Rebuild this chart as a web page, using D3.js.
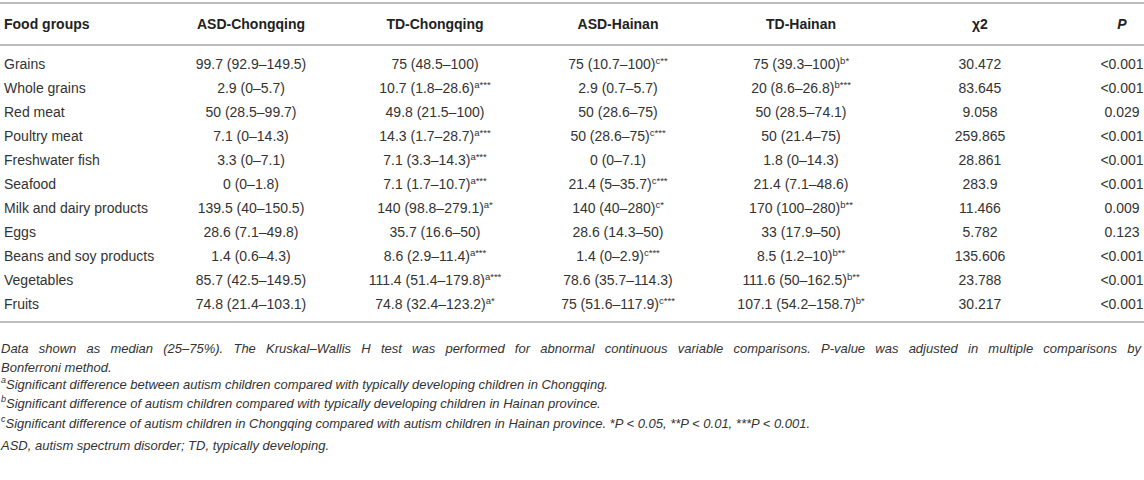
<!DOCTYPE html>
<html>
<head>
<meta charset="utf-8">
<script src="https://cdn.jsdelivr.net/npm/d3@7"></script>
<style>
  body { margin: 0; background: #fff; }
  svg text { font-family: "Liberation Sans", Arial, sans-serif; fill: #333; }
</style>
</head>
<body>
<svg width="1144" height="480"></svg>
<script>
// table content
var headers = ["Food groups", "ASD-Chongqing", "TD-Chongqing", "ASD-Hainan", "TD-Hainan", "\u03c72", "P"];
var foods = ["Grains", "Whole grains", "Red meat", "Poultry meat", "Freshwater fish", "Seafood",
  "Milk and dairy products", "Eggs", "Beans and soy products", "Vegetables", "Fruits"];
// "^" marks the start of a superscript
var asdChongqing = ["99.7 (92.9–149.5)", "2.9 (0–5.7)", "50 (28.5–99.7)", "7.1 (0–14.3)", "3.3 (0–7.1)",
  "0 (0–1.8)", "139.5 (40–150.5)", "28.6 (7.1–49.8)", "1.4 (0.6–4.3)", "85.7 (42.5–149.5)", "74.8 (21.4–103.1)"];
var tdChongqing = ["75 (48.5–100)", "10.7 (1.8–28.6)^a***", "49.8 (21.5–100)", "14.3 (1.7–28.7)^a***",
  "7.1 (3.3–14.3)^a***", "7.1 (1.7–10.7)^a***", "140 (98.8–279.1)^a*", "35.7 (16.6–50)",
  "8.6 (2.9–11.4)^a***", "111.4 (51.4–179.8)^a***", "74.8 (32.4–123.2)^a*"];
var asdHainan = ["75 (10.7–100)^c**", "2.9 (0.7–5.7)", "50 (28.6–75)", "50 (28.6–75)^c***", "0 (0–7.1)",
  "21.4 (5–35.7)^c***", "140 (40–280)^c*", "28.6 (14.3–50)", "1.4 (0–2.9)^c***", "78.6 (35.7–114.3)",
  "75 (51.6–117.9)^c***"];
var tdHainan = ["75 (39.3–100)^b*", "20 (8.6–26.8)^b***", "50 (28.5–74.1)", "50 (21.4–75)", "1.8 (0–14.3)",
  "21.4 (7.1–48.6)", "170 (100–280)^b**", "33 (17.9–50)", "8.5 (1.2–10)^b**", "111.6 (50–162.5)^b**",
  "107.1 (54.2–158.7)^b*"];
var chi2 = ["30.472", "83.645", "9.058", "259.865", "28.861", "283.9", "11.466", "5.782", "135.606", "23.788", "30.217"];
var pValues = ["<0.001", "<0.001", "0.029", "<0.001", "<0.001", "<0.001", "0.009", "0.123", "<0.001", "<0.001", "<0.001"];

var noteJustified = "Data shown as median (25–75%). The Kruskal–Wallis H test was performed for abnormal continuous variable comparisons. P-value was adjusted in multiple comparisons by";
var notes = [
  ["", "Bonferroni method."],
  ["a", "Significant difference between autism children compared with typically developing children in Chongqing."],
  ["b", "Significant difference of autism children compared with typically developing children in Hainan province."],
  ["c", "Significant difference of autism children in Chongqing compared with autism children in Hainan province. *P < 0.05, **P < 0.01, ***P < 0.001."],
  ["", "ASD, autism spectrum disorder; TD, typically developing."]
];

var svg = d3.select("svg"),
    width = +svg.attr("width");

var columns = [asdChongqing, tdChongqing, asdHainan, tdHainan, chi2, pValues];

var xCol = d3.scaleOrdinal()
    .domain(d3.range(7))
    .range([4, 251, 435, 618, 801, 980, 1122]);

var yRow = d3.scaleBand()
    .domain(foods)
    .range([52, 316]);

function rule(y) {
    svg.append("line")
        .attr("x1", 0).attr("x2", width)
        .attr("y1", y).attr("y2", y)
        .attr("stroke", "#bdbdbd")
        .attr("stroke-width", 2);
}
rule(3);
rule(45);
rule(322);

// header
svg.append("g").selectAll("text")
    .data(headers)
    .enter().append("text")
    .attr("x", function(d, i) { return xCol(i); })
    .attr("y", 24)
    .attr("dy", "0.35em")
    .attr("text-anchor", function(d, i) { return i == 0 ? "start" : "middle"; })
    .attr("font-size", "14px")
    .attr("font-weight", "bold")
    .attr("font-style", function(d, i) { return i == 6 ? "italic" : null; })
    .style("fill", "#222")
    .text(function(d) { return d; });

// first column
svg.append("g").selectAll("text")
    .data(foods)
    .enter().append("text")
    .attr("x", xCol(0))
    .attr("y", function(d) { return yRow(d) + yRow.bandwidth() / 2; })
    .attr("dy", "0.35em")
    .attr("font-size", "14px")
    .text(function(d) { return d; });

// value columns
columns.forEach(function(col, c) {
    var cells = svg.append("g").selectAll("text")
        .data(col)
        .enter().append("text")
        .attr("x", xCol(c + 1))
        .attr("y", function(d, i) { return yRow(foods[i]) + yRow.bandwidth() / 2; })
        .attr("dy", "0.35em")
        .attr("text-anchor", "middle")
        .attr("font-size", "14px");
    cells.each(function(d) {
        var parts = d.split("^");
        var t = d3.select(this);
        t.append("tspan").text(parts[0]);
        if (parts[1]) {
            t.append("tspan")
                .attr("font-size", "9.5px")
                .attr("dy", "-0.55em")
                .text(parts[1]);
        }
    });
});

// footnotes
var noteY = 348, noteStep = 19.5;

// first line is justified across the full width
var words = noteJustified.split(" ");
var jt = svg.append("text")
    .attr("y", noteY)
    .attr("dy", "0.35em")
    .attr("font-size", "13px")
    .attr("font-style", "italic");
var spans = words.map(function(w) { return jt.append("tspan").text(w); });
var widths = spans.map(function(s) { return s.node().getComputedTextLength(); });
var gap = (width - 3 - 1 - d3.sum(widths)) / (words.length - 1);
var pos = 1;
spans.forEach(function(s, i) {
    s.attr("x", pos);
    pos += widths[i] + gap;
});

notes.forEach(function(n, i) {
    var t = svg.append("text")
        .attr("x", 1)
        .attr("y", noteY + noteStep * (i + 1))
        .attr("dy", "0.35em")
        .attr("font-size", "13px")
        .attr("font-style", "italic");
    if (n[0]) {
        t.append("tspan")
            .attr("font-size", "9px")
            .attr("dy", "-0.45em")
            .text(n[0]);
        t.append("tspan").attr("dy", "0.45em").text(n[1]);
    } else {
        t.text(n[1]);
    }
});
</script>
</body>
</html>
